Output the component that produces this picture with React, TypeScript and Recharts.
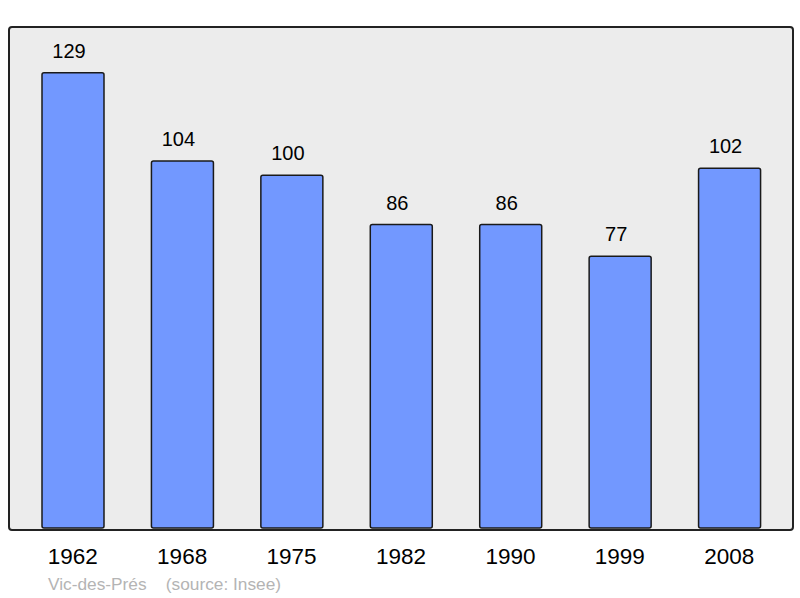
import { BarChart, Bar, XAxis, YAxis, CartesianGrid, LabelList } from "recharts";

const years = ["1962", "1968", "1975", "1982", "1990", "1999", "2008"];
const population = [129, 104, 100, 86, 86, 77, 102];
const place = "Vic-des-Prés";
const source = "(source: Insee)";

const data = years.map((year, i) => ({ year, value: population[i] }));

function YearTick({ x, y, payload }: { x: number; y: number; payload: { value: string } }) {
  return (
    <text x={x} y={y} dy={28} textAnchor="middle" dominantBaseline="central" fontSize={22.5} fill="#000">
      {payload.value}
    </text>
  );
}

export default function App() {
  return (
    <div
      style={{
        position: "absolute",
        left: 0,
        top: 0,
        width: 800,
        height: 598,
        fontFamily: "'Liberation Sans', Arial, sans-serif",
        background: "#fff",
      }}
    >
      <div
        style={{
          position: "absolute",
          left: 8,
          top: 26,
          width: 782,
          height: 501,
          background: "#ececec",
          border: "2px solid #222",
          borderRadius: 4,
          boxSizing: "content-box",
        }}
      />
      <div style={{ position: "absolute", left: 0, top: 0 }}>
        <BarChart width={800} height={598} data={data} margin={{ top: 27, right: 9, bottom: 0, left: 9 }}>
          <CartesianGrid horizontal={false} vertical={false} />
          <XAxis
            dataKey="year"
            height={70}
            axisLine={false}
            tickLine={false}
            tickSize={0}
            tickMargin={0}
            padding={{ left: 9, right: 7 }}
            interval={0}
            tick={YearTick}
          />
          <YAxis hide domain={[0, 142]} />
          <Bar
            dataKey="value"
            fill="#7298ff"
            stroke="#1a1a1a"
            strokeWidth={1.5}
            barSize={62}
            radius={2}
            isAnimationActive={false}
          >
            <LabelList dataKey="value" position="top" offset={15} dx={-4} fontSize={20} fill="#000" />
          </Bar>
        </BarChart>
      </div>
      <div
        style={{
          position: "absolute",
          left: 48,
          top: 574,
          fontSize: 17.3,
          color: "#b4b4b4",
          whiteSpace: "pre",
        }}
      >
        {place + "    " + source}
      </div>
    </div>
  );
}
